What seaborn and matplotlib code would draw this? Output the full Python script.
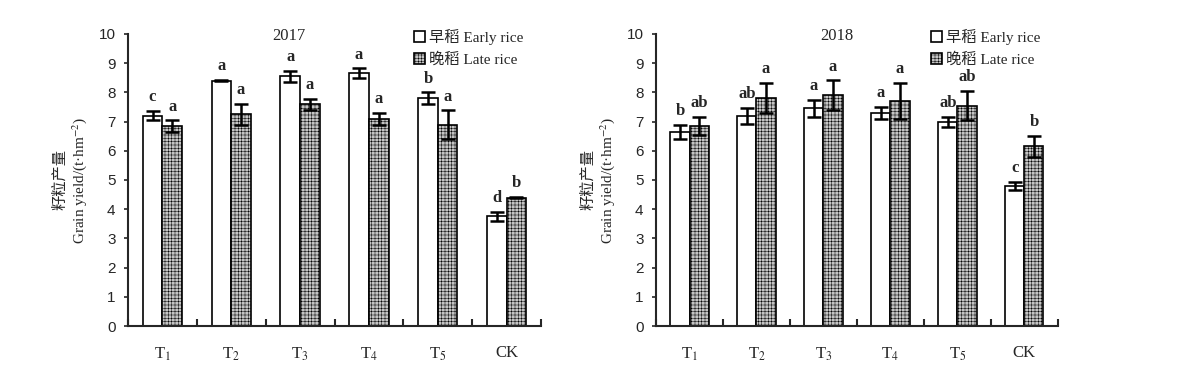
import numpy as np
import pandas as pd
import seaborn as sns
import matplotlib
matplotlib.use("Agg")
import matplotlib.pyplot as plt
from matplotlib.patches import Patch

sns.set_style("ticks")
plt.rcParams['font.family'] = ['Liberation Serif', 'Noto Sans CJK SC']
plt.rcParams['mathtext.fontset'] = 'stix'
plt.rcParams['hatch.linewidth'] = 0.35

treatments = ['T1', 'T2', 'T3', 'T4', 'T5', 'CK']
tick_labels = ['T$_1$', 'T$_2$', 'T$_3$', 'T$_4$', 'T$_5$', 'CK']
seasons = ['早稻 Early rice', '晚稻 Late rice']

early_2017 = [7.2, 8.4, 8.55, 8.65, 7.8, 3.75]
early_2017_err = [0.16, 0.02, 0.18, 0.17, 0.2, 0.15]
late_2017 = [6.85, 7.25, 7.6, 7.1, 6.9, 4.4]
late_2017_err = [0.19, 0.36, 0.19, 0.21, 0.48, 0.02]
letters_early_2017 = ['c', 'a', 'a', 'a', 'b', 'd']
letters_late_2017 = ['a', 'a', 'a', 'a', 'a', 'b']

early_2018 = [6.65, 7.2, 7.45, 7.3, 7.0, 4.8]
early_2018_err = [0.24, 0.27, 0.29, 0.21, 0.17, 0.14]
late_2018 = [6.85, 7.8, 7.9, 7.7, 7.55, 6.15]
late_2018_err = [0.32, 0.51, 0.51, 0.61, 0.51, 0.37]
letters_early_2018 = ['b', 'ab', 'a', 'a', 'ab', 'c']
letters_late_2018 = ['ab', 'a', 'a', 'a', 'ab', 'b']

panels = [
    ('2017', early_2017, early_2017_err, late_2017, late_2017_err,
     letters_early_2017, letters_late_2017, [0.1083, 0.4577], 0.39),
    ('2018', early_2018, early_2018_err, late_2018, late_2018_err,
     letters_early_2018, letters_late_2018, [0.555, 0.895], 0.45),
]

fig = plt.figure(figsize=(11.82, 3.67), dpi=100)
late_face = '#c4c4c4'

for year, e, ee, l, le, le_e, le_l, (x0, x1), title_x in panels:
    ax = fig.add_axes([x0, 0.1117, x1 - x0, 0.9074 - 0.1117])
    df = pd.DataFrame({
        'treatment': treatments * 2,
        'season': [seasons[0]] * 6 + [seasons[1]] * 6,
        'yield': e + l,
    })
    sns.barplot(data=df, x='treatment', y='yield', hue='season',
                order=treatments, hue_order=seasons, errorbar=None,
                width=0.57, gap=0, ax=ax, legend=False,
                palette=['white', late_face], edgecolor='black', linewidth=1.2)
    for cont, errs, lets in [(ax.containers[0], ee, le_e), (ax.containers[1], le, le_l)]:
        for bar, err, let in zip(cont, errs, lets):
            cx = bar.get_x() + bar.get_width() / 2
            h = bar.get_height()
            ax.errorbar(cx, h, yerr=err, fmt='none', ecolor='black',
                        elinewidth=1.8, capsize=5, capthick=1.8, zorder=5)
            ax.text(cx, h + err + 0.2, let, ha='center', va='bottom',
                    fontsize=12, fontweight='bold')
    for bar in ax.containers[1]:
        bar.set_hatch('+++++')

    ax.set_xlim(-0.5, 5.5)
    ax.set_ylim(0, 10)
    ax.set_yticks(range(0, 11))
    ax.set_yticklabels([str(i) for i in range(0, 11)], family='Liberation Sans', fontsize=11)
    ax.set_xticks(range(6))
    ax.set_xticklabels(tick_labels, fontsize=12)
    ax.set_xticks(np.arange(-0.5, 5.6, 1), minor=True)
    ax.tick_params(axis='x', which='major', length=0, pad=14)
    ax.tick_params(axis='x', which='minor', direction='in', length=5, width=1.5)
    ax.tick_params(axis='y', direction='out', length=3, width=1.2, pad=6)
    for s in ['top', 'right']:
        ax.spines[s].set_visible(False)
    for s in ['left', 'bottom']:
        ax.spines[s].set_linewidth(1.5)
    ax.set_xlabel('')
    ax.set_ylabel('籽粒产量\nGrain yield/(t·hm$^{-2}$)', fontsize=11, labelpad=7)
    ax.text(-0.5 + 6 * title_x, 9.93, year, fontsize=12, ha='center', va='center')

    handles = [Patch(facecolor='white', edgecolor='black', linewidth=1.2),
               Patch(facecolor=late_face, edgecolor='black', hatch='+++++', linewidth=1.2)]
    ax.legend(handles, seasons, loc='upper right', bbox_to_anchor=(0.98, 1.05),
              frameon=False, fontsize=11, handlelength=0.7, handleheight=0.7,
              handletextpad=0.3, labelspacing=0.5, borderaxespad=0.2)

fig.savefig('out.png', dpi=100)
